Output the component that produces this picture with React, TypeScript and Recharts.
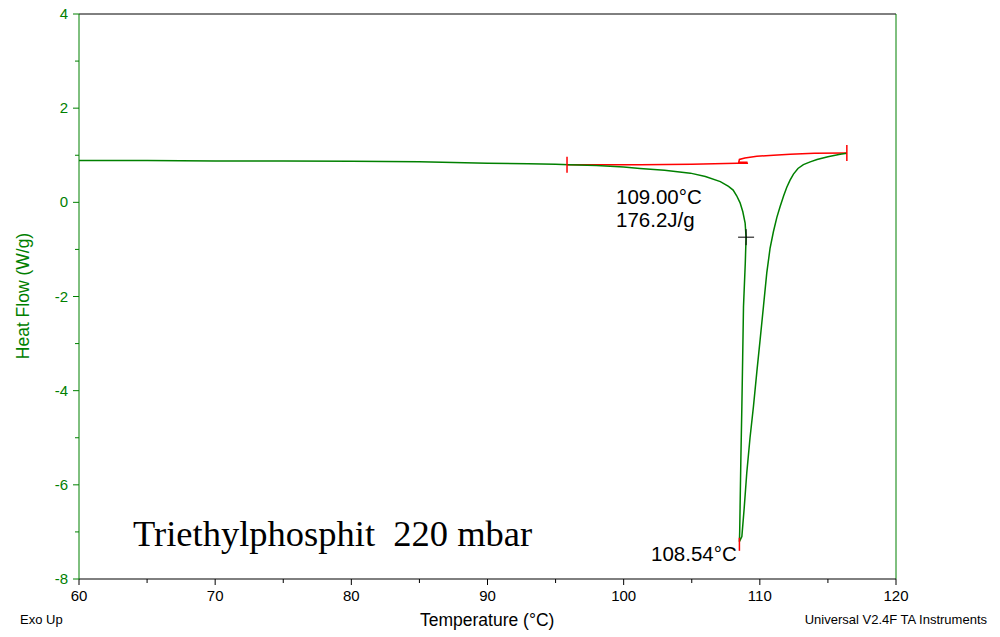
import React from "react";
import {
  ComposedChart, Line, Scatter, XAxis, YAxis, ReferenceLine,
} from "recharts";

// DSC trace (temperature in °C, heat flow in W/g)
const curveT = [
  60, 65, 70, 75, 80, 85, 90, 93, 95, 96,
  98, 100, 101.2, 103, 104.9, 106, 107.1, 107.7, 108.04, 108.3,
  108.55, 108.75, 108.92, 108.99, 108.93, 108.8, 108.74, 108.68, 108.61, 108.55,
  108.52, 108.5, 108.68, 108.85, 109.04, 109.28, 109.53, 109.78, 110.02, 110.27,
  110.51, 110.75, 111.0, 111.25, 111.49, 111.75, 111.98, 112.22, 112.47, 112.8,
  113.2, 113.7, 114.2, 115.0, 115.9, 116.39,
];
const curveHF = [
  0.89, 0.89, 0.88, 0.88, 0.87, 0.86, 0.83, 0.82, 0.81, 0.8,
  0.78, 0.75, 0.72, 0.68, 0.62, 0.55, 0.44, 0.34, 0.26, 0.14,
  -0.01, -0.2, -0.44, -0.74, -1.3, -2.22, -3.3, -4.34, -5.4, -6.47,
  -7.0, -7.21, -7.1, -6.5, -5.75, -5.0, -4.34, -3.6, -2.92, -2.2,
  -1.5, -0.98, -0.62, -0.32, -0.09, 0.14, 0.32, 0.47, 0.6, 0.72,
  0.8, 0.86, 0.91, 0.97, 1.02, 1.04,
];

// integration baseline (red)
const baseT = [95.84, 101.2, 105, 108.31, 109.07, 109.05, 108.45, 108.5, 108.9, 109.78, 111, 112.23, 114, 116.39];
const baseHF = [0.8, 0.8, 0.81, 0.83, 0.83, 0.85, 0.85, 0.91, 0.94, 0.98, 1.0, 1.02, 1.04, 1.05];

const limitPoints = [{ t: 95.84, v: 0.8 }, { t: 116.39, v: 1.05 }];
const peakPoint = [{ t: 108.5, v: -7.21 }];
const onsetPoint = [{ t: 108.99, v: -0.74 }];

const xTicks = [60, 65, 70, 75, 80, 85, 90, 95, 100, 105, 110, 115, 120];
const yTicks = [-8, -7, -6, -5, -4, -3, -2, -1, 0, 1, 2, 3, 4];

const curveData = curveT.map((t, i) => ({ t, v: curveHF[i] }));
const baseData = baseT.map((t, i) => ({ t, v: baseHF[i] }));

const GREEN = "#008000";
const RED = "#ff0000";
const SANS = "'Liberation Sans', Arial, sans-serif";

const XTick = (props: any) => {
  const { x, y, payload } = props;
  const major = payload.value % 10 === 0;
  return (
    <g>
      <line x1={x} y1={y} x2={x} y2={y + (major ? 6 : 4)} stroke="#000" />
      {major && (
        <text x={x} y={y + 22} textAnchor="middle" fontSize={15} fontFamily={SANS} fill="#000">
          {payload.value}
        </text>
      )}
    </g>
  );
};

const YTick = (props: any) => {
  const { x, y, payload } = props;
  const major = payload.value % 2 === 0;
  return (
    <g>
      <line x1={x} y1={y} x2={x - (major ? 6 : 4)} y2={y} stroke={GREEN} />
      {major && (
        <text x={x - 11} y={y + 5} textAnchor="end" fontSize={15} fontFamily={SANS} fill={GREEN}>
          {payload.value}
        </text>
      )}
    </g>
  );
};

const LimitMark = (props: any) => (
  <line x1={props.cx} y1={props.cy - 8} x2={props.cx} y2={props.cy + 8} stroke={RED} strokeWidth={1.5} />
);
const PeakMark = (props: any) => (
  <line x1={props.cx} y1={props.cy - 4} x2={props.cx} y2={props.cy + 9} stroke={RED} strokeWidth={1.5} />
);
const CrossMark = (props: any) => (
  <g stroke="#000" strokeWidth={1}>
    <line x1={props.cx - 8} y1={props.cy} x2={props.cx + 8} y2={props.cy} />
    <line x1={props.cx} y1={props.cy - 8} x2={props.cx} y2={props.cy + 8} />
  </g>
);

const txt: React.CSSProperties = { position: "absolute", fontFamily: SANS, whiteSpace: "pre", lineHeight: 1 };

export default function App() {
  return (
    <div style={{ position: "absolute", left: 0, top: 0, width: 1000, height: 637, background: "#fff" }}>
      <ComposedChart width={1000} height={637} margin={{ top: 14, right: 104, bottom: 28, left: 0 }}>
        <XAxis
          type="number"
          dataKey="t"
          domain={[60, 120]}
          ticks={xTicks}
          interval={0}
          allowDataOverflow
          height={30}
          tickSize={0}
          tickMargin={0}
          tickLine={false}
          axisLine={{ stroke: "#000" }}
          tick={<XTick />}
        />
        <YAxis
          type="number"
          dataKey="v"
          domain={[-8, 4]}
          ticks={yTicks}
          interval={0}
          allowDataOverflow
          width={79}
          tickSize={0}
          tickMargin={0}
          tickLine={false}
          axisLine={{ stroke: GREEN }}
          tick={<YTick />}
        />
        <ReferenceLine y={4} stroke="#000" />
        <ReferenceLine x={120} stroke={GREEN} />
        <Line data={baseData} dataKey="v" type="linear" stroke={RED} strokeWidth={1.5} dot={false} isAnimationActive={false} />
        <Line data={curveData} dataKey="v" type="linear" stroke={GREEN} strokeWidth={1.5} dot={false} isAnimationActive={false} />
        <Scatter data={limitPoints} dataKey="v" shape={<LimitMark />} isAnimationActive={false} />
        <Scatter data={peakPoint} dataKey="v" shape={<PeakMark />} isAnimationActive={false} />
        <Scatter data={onsetPoint} dataKey="v" shape={<CrossMark />} isAnimationActive={false} />
      </ComposedChart>

      <div style={{ ...txt, left: 616, top: 187, fontSize: 20.5, color: "#000" }}>109.00°C</div>
      <div style={{ ...txt, left: 616, top: 210, fontSize: 20.5, color: "#000" }}>176.2J/g</div>
      <div style={{ ...txt, left: 651, top: 544, fontSize: 20.5, color: "#000" }}>108.54°C</div>
      <div style={{ ...txt, left: 133, top: 516, fontSize: 36.5, fontFamily: "'Liberation Serif', 'Times New Roman', serif", color: "#000" }}>
        Triethylphosphit  220 mbar
      </div>
      <div style={{ ...txt, left: 20, top: 613, fontSize: 13, color: "#000" }}>Exo Up</div>
      <div style={{ ...txt, left: 420, top: 612, fontSize: 17.5, color: "#000" }}>Temperature (°C)</div>
      <div style={{ ...txt, right: 13, top: 613, fontSize: 13, color: "#000" }}>Universal V2.4F TA Instruments</div>
      <div
        style={{
          ...txt, left: 24, top: 296, fontSize: 17.5, color: GREEN,
          transform: "translate(-50%, -50%) rotate(-90deg)",
        }}
      >
        Heat Flow (W/g)
      </div>
    </div>
  );
}
